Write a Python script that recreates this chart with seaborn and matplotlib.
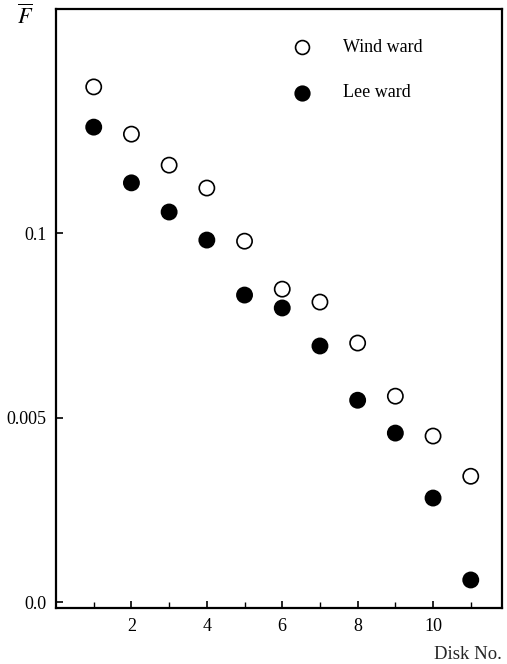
import pandas as pd
import matplotlib.pyplot as plt
import seaborn as sns

# values
disk_no = [1, 2, 3, 4, 5, 6, 7, 8, 9, 10, 11]
wind_ward = [0.1396, 0.1268, 0.1184, 0.1122, 0.0978, 0.0848, 0.0813, 0.0702, 0.0558, 0.0450, 0.0341]
lee_ward = [0.1287, 0.1136, 0.1057, 0.0981, 0.0832, 0.0797, 0.0694, 0.0547, 0.0458, 0.0282, 0.0060]
ytick_vals = [0.0, 0.05, 0.1]
ytick_labels = ['0.0', '0.005', '0.1']
xtick_labels = ['2', '4', '6', '8', '10']

df = pd.concat([
    pd.DataFrame({'Disk': disk_no, 'F': wind_ward, 'side': 'Wind ward'}),
    pd.DataFrame({'Disk': disk_no, 'F': lee_ward, 'side': 'Lee ward'}),
])

sns.set_style("ticks", {'axes.edgecolor': 'black', 'xtick.color': 'black',
                        'ytick.color': 'black', 'text.color': 'black'})
plt.rcParams['font.family'] = ['Liberation Serif', 'DejaVu Serif']
plt.rcParams['mathtext.fontset'] = 'stix'

fig = plt.figure(figsize=(5.07, 6.64), dpi=100)
ax = fig.add_axes([0.1105, 0.0843, 0.879, 0.9021])

sns.scatterplot(data=df, x='Disk', y='F', hue='side', style='side',
                palette={'Wind ward': 'white', 'Lee ward': 'black'},
                markers={'Wind ward': 'o', 'Lee ward': 'o'},
                edgecolor='black', linewidth=1.2, s=120, ax=ax, legend=False)

# legend by hand with proxy handles
h1 = ax.scatter([], [], s=100, facecolor='white', edgecolor='black', linewidth=1.2)
h2 = ax.scatter([], [], s=110, facecolor='black', edgecolor='black', linewidth=1.2)
ax.legend([h1, h2], ['Wind ward', 'Lee ward'], frameon=False, loc='upper left',
          bbox_to_anchor=(0.474, 0.977), labelspacing=1.57, handletextpad=1.3,
          fontsize=13)

ax.set_xlim(0, 11.82)
ax.set_ylim(-0.0016, 0.1607)
ax.set_xticks(disk_no, minor=True)
ax.set_xticks([2, 4, 6, 8, 10])
ax.set_xticklabels(xtick_labels)
ax.set_yticks(ytick_vals)
ax.set_yticklabels(ytick_labels)
ax.tick_params(direction='in', length=5, width=1.2, labelsize=13, pad=7)
ax.tick_params(axis='x', which='minor', direction='in', length=4, width=1)
ax.tick_params(axis='y', pad=7)

for sp in ax.spines.values():
    sp.set_linewidth(1.6)

ax.set_xlabel('Disk No.', fontsize=13.5, loc='right', labelpad=8)
ax.set_ylabel('')
fig.text(0.05, 0.975, r'$\overline{F}$', fontsize=16, ha='center', va='center')

plt.savefig('out.png', dpi=100)
